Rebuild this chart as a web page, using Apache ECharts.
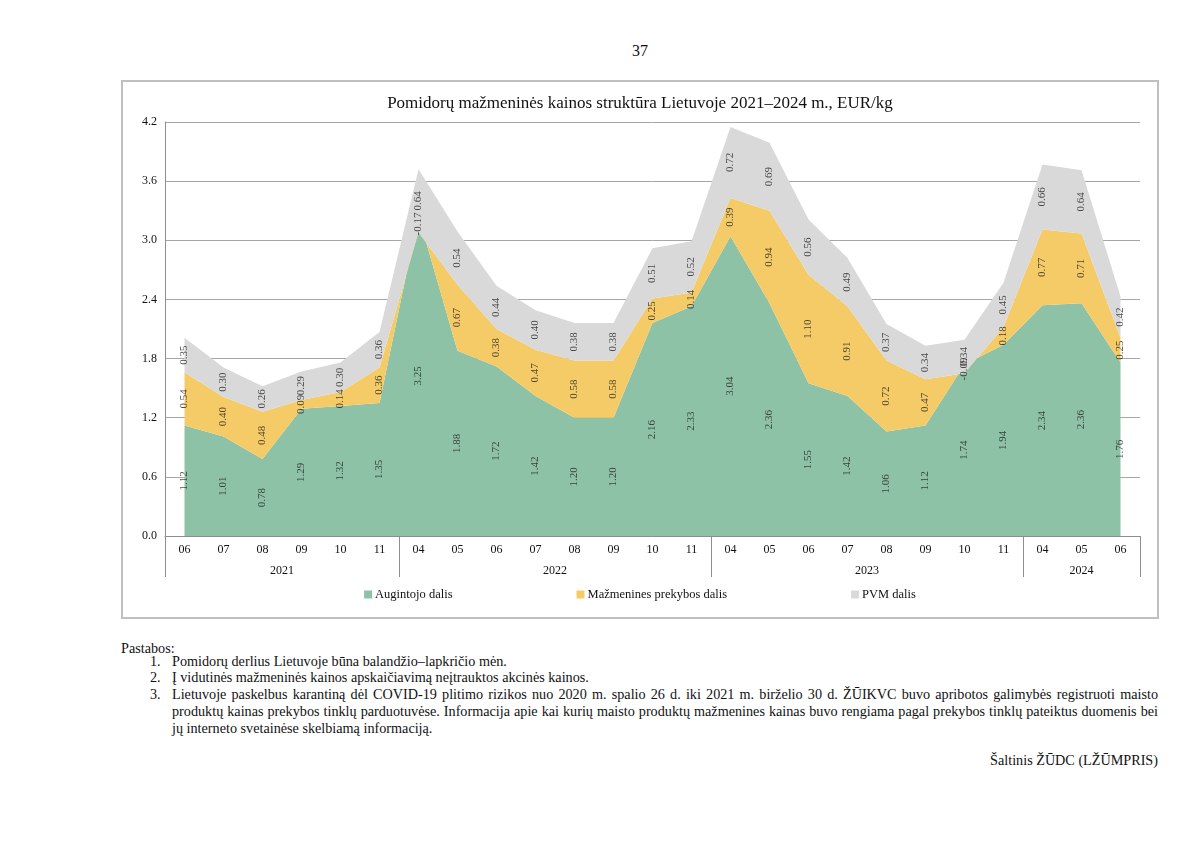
<!DOCTYPE html>
<html>
<head>
<meta charset="utf-8">
<script src="https://cdn.jsdelivr.net/npm/echarts@6/dist/echarts.min.js"></script>
<style>
  html, body { margin:0; padding:0; background:#fff; }
  body { width:1200px; height:849px; position:relative; overflow:hidden; font-family:"Liberation Serif", "Times New Roman", serif; color:#111; }
  #pg { position:absolute; left:540px; width:200px; top:42px; text-align:center; font-size:16px; }
  #chart { position:absolute; left:121px; top:80px; width:1038px; height:539px; box-sizing:border-box; border:2px solid #BFBFBF; }
  #notes { position:absolute; left:121px; top:640px; width:1037px; font-size:14.2px; line-height:16.7px; }
  #notes .head { margin-bottom:-4px; }
  .item { position:relative; padding-left:51px; }
  .num { position:absolute; left:29px; }
  .j { text-align:justify; text-align-last:justify; }
  #src { position:absolute; right:42px; top:752px; font-size:14.2px; }
</style>
</head>
<body>
<div id="pg">37</div>
<div id="chart"></div>
<div id="notes">
  <div class="head">Pastabos:</div>
  <div class="item"><span class="num">1.</span>Pomidorų derlius Lietuvoje būna balandžio–lapkričio mėn.</div>
  <div class="item"><span class="num">2.</span>Į vidutinės mažmeninės kainos apskaičiavimą neįtrauktos akcinės kainos.</div>
  <div class="item"><span class="num">3.</span><div class="j">Lietuvoje paskelbus karantiną dėl COVID-19 plitimo rizikos nuo 2020 m. spalio 26 d. iki 2021 m. birželio 30 d. ŽŪIKVC buvo apribotos galimybės registruoti maisto</div><div class="j">produktų kainas prekybos tinklų parduotuvėse. Informacija apie kai kurių maisto produktų mažmenines kainas buvo rengiama pagal prekybos tinklų pateiktus duomenis bei</div><div>jų interneto svetainėse skelbiamą informaciją.</div></div>
</div>
<div id="src">Šaltinis ŽŪDC (LŽŪMPRIS)</div>
<script>
const months = ['06','07','08','09','10','11','04','05','06','07','08','09','10','11','04','05','06','07','08','09','10','11','04','05','06'];
const yearLabels = { 3: '2021', 10: '2022', 18: '2023', 23.5: '2024' };
const yearBoundaries = [0, 6, 14, 22];
const augintojo = [1.12,1.01,0.78,1.29,1.32,1.35,3.25,1.88,1.72,1.42,1.20,1.20,2.16,2.33,3.04,2.36,1.55,1.42,1.06,1.12,1.74,1.94,2.34,2.36,1.76];
const mazmenines = [0.54,0.40,0.48,0.09,0.14,0.36,-0.17,0.67,0.38,0.47,0.58,0.58,0.25,0.14,0.39,0.94,1.10,0.91,0.72,0.47,-0.09,0.18,0.77,0.71,0.25];
const pvm = [0.35,0.30,0.26,0.29,0.30,0.36,0.64,0.54,0.44,0.40,0.38,0.38,0.51,0.52,0.72,0.69,0.56,0.49,0.37,0.34,0.34,0.45,0.66,0.64,0.42];
const seriesNames = ['Augintojo dalis', 'Mažmenines prekybos dalis', 'PVM dalis'];
const colors = ['#8DC2A6', '#F5CB67', '#D9D9D9'];
const yTicks = { min: 0, max: 4.2, interval: 0.6 };

const FONT = '"Liberation Serif", "Times New Roman", serif';
const all = [augintojo, mazmenines, pvm];

const areaSeries = all.map((arr, k) => ({
  name: seriesNames[k], type: 'line', stack: 'total', stackStrategy: 'all',
  data: arr, symbol: 'none', showSymbol: false,
  lineStyle: { width: 0 }, areaStyle: { color: colors[k], opacity: 1 },
  itemStyle: { color: colors[k] }, silent: true, z: 2
}));

const labelSeries = all.map((arr, k) => ({
  name: seriesNames[k] + '_lbl', type: 'scatter', symbolSize: 1,
  itemStyle: { color: 'rgba(0,0,0,0)' }, silent: true, z: 5,
  data: arr.map((v, i) => {
    let base = 0;
    for (let j = 0; j < k; j++) base += all[j][i];
    return { value: [i, base + v / 2], v: v };
  }),
  label: {
    show: true, position: 'inside', rotate: 90,
    fontFamily: FONT, fontSize: 11, color: '#222',
    formatter: p => p.data.v.toFixed(2)
  },
  labelLayout: { hideOverlap: false }
}));

const chart = echarts.init(document.getElementById('chart'), null, { renderer: 'canvas' });
chart.setOption({
  animation: false,
  backgroundColor: '#fff',
  title: {
    text: 'Pomidorų mažmeninės kainos struktūra Lietuvoje 2021–2024 m., EUR/kg',
    left: 'center', top: 8,
    textStyle: { fontFamily: FONT, fontSize: 17, fontWeight: 'normal', color: '#111' }
  },
  legend: {
    data: seriesNames, bottom: 11, left: 'center', itemGap: 124,
    itemWidth: 8, itemHeight: 8, icon: 'rect',
    textStyle: { fontFamily: FONT, fontSize: 12.5, color: '#111', padding: [0,0,0,-2] }
  },
  grid: { left: 42, right: 17, top: 40, bottom: 81, containLabel: false },
  xAxis: [{
    type: 'category', data: months, boundaryGap: true,
    axisLine: { lineStyle: { color: '#8E8E8E', width: 1 } },
    axisTick: { show: true, length: 41, lineStyle: { color: '#8E8E8E' },
      interval: (i) => yearBoundaries.includes(i) },
    axisLabel: { interval: 0, margin: 8, fontFamily: FONT, fontSize: 12, color: '#111' },
    splitLine: { show: false }
  }, {
    type: 'value', min: 0, max: months.length, interval: 0.5, position: 'bottom',
    axisLine: { show: false }, axisTick: { show: false }, splitLine: { show: false },
    axisLabel: { margin: 29, fontFamily: FONT, fontSize: 12, color: '#111',
      showMinLabel: true, showMaxLabel: true,
      formatter: v => yearLabels[v] || '' }
  }],
  yAxis: {
    type: 'value', min: yTicks.min, max: yTicks.max, interval: yTicks.interval,
    axisLine: { show: true, lineStyle: { color: '#8E8E8E' } },
    axisTick: { show: false },
    splitLine: { lineStyle: { color: '#A6A6A6', width: 1 } },
    axisLabel: { margin: 8, fontFamily: FONT, fontSize: 12, color: '#111', formatter: v => v.toFixed(1) }
  },
  series: [...areaSeries, ...labelSeries]
});
</script>
</body>
</html>
